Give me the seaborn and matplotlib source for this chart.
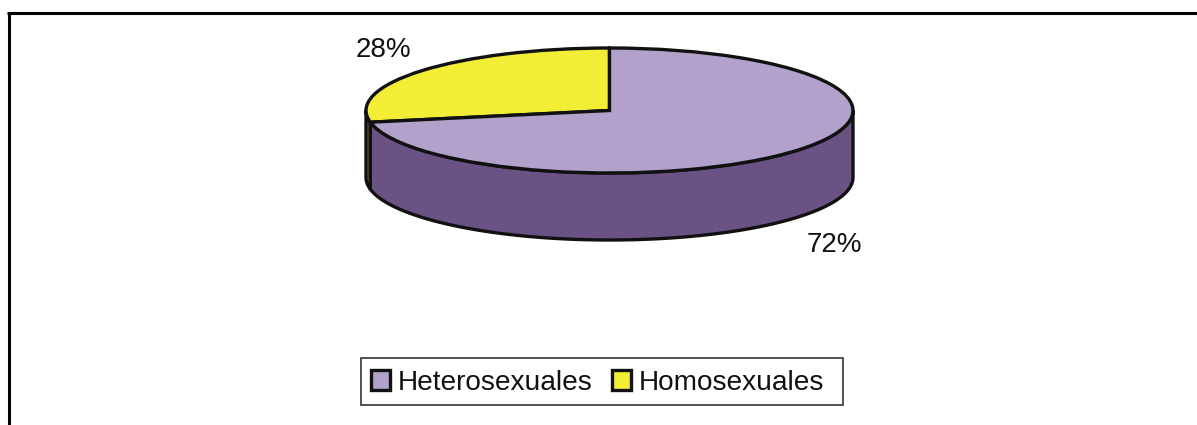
import numpy as np
import matplotlib.pyplot as plt
import seaborn as sns
from matplotlib.lines import Line2D
from matplotlib.patches import Polygon, Rectangle, Patch

labels = ["Heterosexuales", "Homosexuales"]
values = [72, 28]
pct_labels = ["72%", "28%"]

top_colors = ["#B2A2CB", "#F2EE35"]
side_colors = ["#6A5285", "#8A8620"]

sns.set_theme(style="white")
plt.rcParams["font.family"] = ["Liberation Sans", "DejaVu Sans"]

W, H = 1197, 425
cx, cy, rx, ry, depth = 609.5, 110.5, 243.5, 62.5, 67
edge = "#111111"

fig = plt.figure(figsize=(W / 100, H / 100), dpi=100)
ax = fig.add_axes([0, 0, 1, 1])

# homosexuales runs from 12 o'clock counter clockwise, so draw it first
ax.pie(values[::-1], colors=top_colors[::-1], startangle=90, counterclock=True,
       wedgeprops={"edgecolor": edge, "linewidth": 2.4, "zorder": 5})

# data units: radius 1 = rx / ry pixels
ax.set_xlim(-cx / rx, (W - cx) / rx)
ax.set_ylim((cy - H) / ry, cy / ry)
ax.set_aspect("auto")
ax.axis("off")
d = depth / ry

# side wall, only the front half of the ellipse shows
split = 90 + 360 * values[1] / sum(values)
t1 = np.radians(np.linspace(180, split, 20))
t2 = np.radians(np.linspace(split, 360, 200))
for t, col in [(t1, side_colors[1]), (t2, side_colors[0])]:
    xs, ys = np.cos(t), np.sin(t)
    pts = np.r_[np.c_[xs, ys], np.c_[xs[::-1], ys[::-1] - d]]
    ax.add_patch(Polygon(pts, closed=True, facecolor=col, edgecolor=edge,
                         linewidth=2.4, zorder=3, joinstyle="round"))

ax.text((834 - cx) / rx, (cy - 245) / ry, pct_labels[0],
        fontsize=20, ha="center", va="center", color=edge)
ax.text((383 - cx) / rx, (cy - 50) / ry, pct_labels[1],
        fontsize=20, ha="center", va="center", color=edge)

# outer picture frame, cut off by the crop at right and bottom
fig.add_artist(Line2D([8.5 / W, 8.5 / W], [0, 1 - 12.5 / H], color="black", lw=2.2,
                      solid_capstyle="butt"))
fig.add_artist(Line2D([7 / W, 1], [1 - 12.5 / H, 1 - 12.5 / H], color="black", lw=2.2,
                      solid_capstyle="butt"))

# legend box is wider on the right than the legend itself, so draw it apart
fig.add_artist(Rectangle((360.5 / W, 1 - 405 / H), 482.5 / W, 47.5 / H, transform=fig.transFigure,
                         facecolor="white", edgecolor="#333333", linewidth=1.2))
handles = [Patch(facecolor=c, edgecolor=edge, linewidth=2.4) for c in top_colors]
fig.legend(handles, labels, loc="center left", bbox_to_anchor=(370.5 / W, 1 - 383 / H),
           ncol=2, fontsize=20.2, frameon=False, handlelength=0.69, handleheight=0.69,
           handletextpad=0.28, columnspacing=0.68, borderpad=0, borderaxespad=0,
           labelcolor=edge)

fig.savefig("out.png", dpi=100)
